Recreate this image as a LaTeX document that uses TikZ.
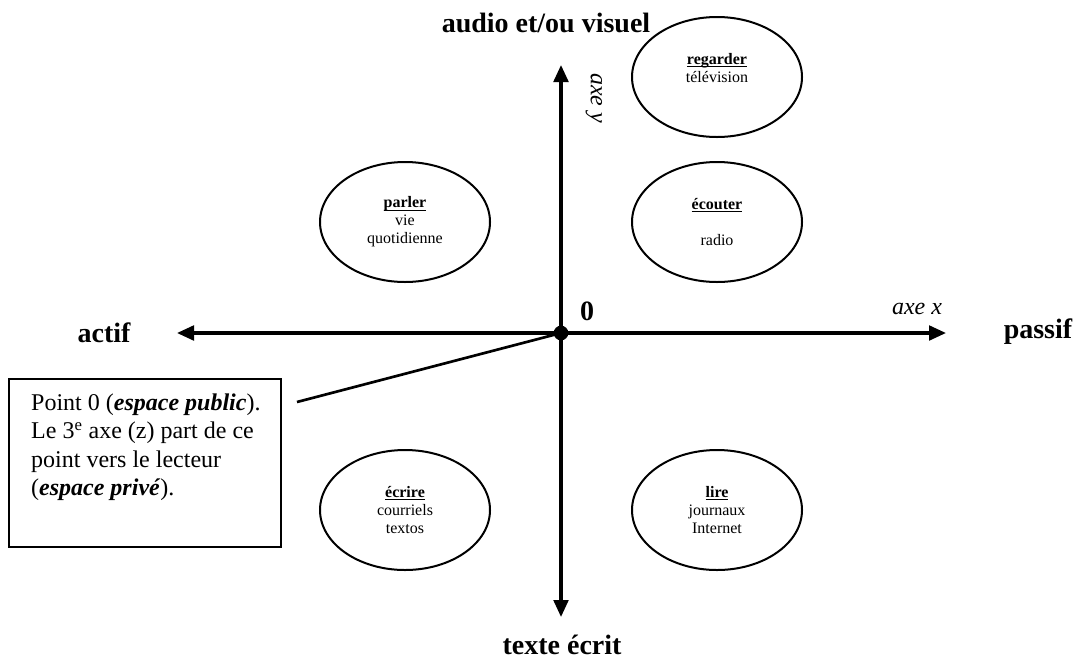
\documentclass[tikz,border=0pt]{standalone}
\usepackage{fontspec}
\setmainfont{Liberation Serif}
\usetikzlibrary{arrows.meta,shapes.geometric}
\newcommand\myul[1]{\setbox0\hbox{\textbf{#1}}\rlap{\rule[-2.2pt]{\wd0}{0.9pt}}\box0}
\begin{document}
\begin{tikzpicture}[x=0.75pt,y=-0.75pt,
  axis/.style={line width=2.4pt,-{Triangle[length=12.75pt,width=11pt]}},
  oval/.style={ellipse,draw,line width=1.5pt,minimum width=127.5pt,minimum height=90pt,inner sep=0pt,align=center,font=\fontsize{12}{13.5}\selectfont},
  biglabel/.style={font=\fontsize{21}{25}\selectfont\bfseries,inner sep=0pt},
  axlabel/.style={font=\fontsize{18}{21}\selectfont\itshape,inner sep=0pt},
  notebox/.style={draw,line width=1.8pt,inner sep=0pt,anchor=north west},
  conn/.style={line width=2pt}]
\useasboundingbox (0,0) rectangle (1080,661);

% origin
\node[circle,fill,inner sep=0pt,minimum size=11pt] (O) at (561,333) {};
\coordinate (ytop) at (561,65);
\coordinate (ybot) at (561,617);
\coordinate (xleft) at (177,333);
\coordinate (xright) at (946,333);
\draw[axis] (O.center) -- (ytop);
\draw[axis] (O.center) -- (ybot);
\draw[axis] (O.center) -- (xleft);
\draw[axis] (O.center) -- (xright);

% axis labels
\node[biglabel] (audio) at (546,23) {audio et/ou visuel};
\node[biglabel] (texte) at (562,645) {texte écrit};
\node[biglabel] (actif) at (104,333) {actif};
\node[biglabel] (passif) at (1038,332) {passif};
\node[biglabel] (zero) at (587,311) {0};
\node[axlabel] (axex) at (917,309) {axe x};
\node[axlabel,rotate=-90] (axey) at (594,98) {axe y};

% ovals
\node[oval] (regarder) at (717,77) {\myul{regarder}\\télévision\\\mbox{}};
\node[oval] (parler) at (405,222) {\myul{parler}\\vie\\quotidienne};
\node[oval] (ecouter) at (717,222) {\myul{écouter}\\\mbox{}\\radio};
\node[oval] (ecrire) at (405,510) {\myul{écrire}\\courriels\\textos};
\node[oval] (lire) at (717,510) {\myul{lire}\\journaux\\Internet};

% note box
\node[notebox] (note) at (8,378) {\parbox[c][126pt][t]{204pt}{\fontsize{18}{21.2}\selectfont\leftskip=16.5pt\vspace*{11pt}%
Point 0 (\textbf{\textit{espace public}}).\\
Le 3\textsuperscript{e} axe (z) part de ce\\
point vers le lecteur\\
(\textbf{\textit{espace privé}}).\par}};
\coordinate (lineend) at (297,402);
\draw[conn] (lineend) -- (O.center);
\end{tikzpicture}
\end{document}
